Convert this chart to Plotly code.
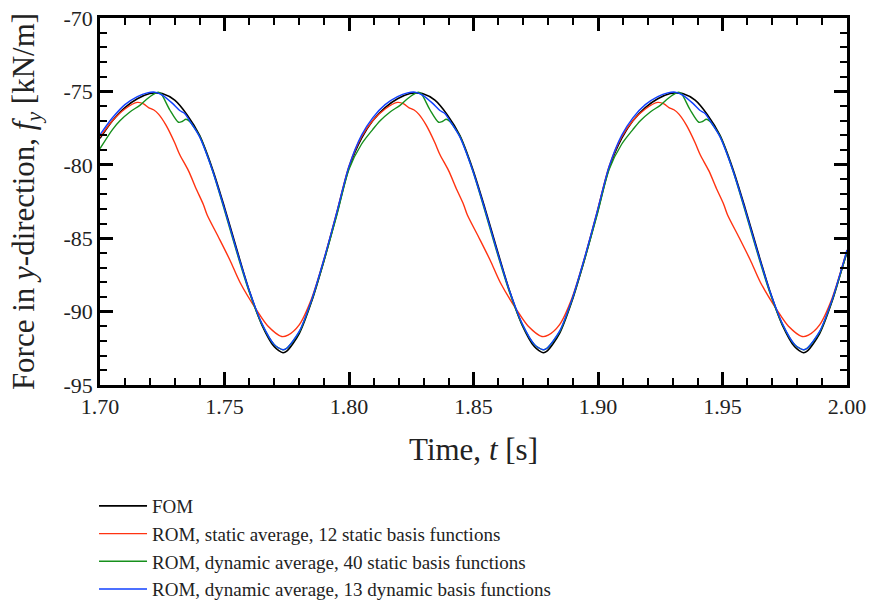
import plotly.graph_objects as go

# ---- data ----
fom_t = [1.7000, 1.7050, 1.7100, 1.7150, 1.7200, 1.7225, 1.7250, 1.7300, 1.7350, 1.7400,
         1.7450, 1.7500, 1.7550, 1.7600, 1.7650, 1.7700, 1.7735, 1.7750, 1.7800, 1.7850,
         1.7900, 1.7950, 1.8000, 1.8050,
         1.8095, 1.8145, 1.8195, 1.8245, 1.8270, 1.8295, 1.8345, 1.8395, 1.8445, 1.8495,
         1.8545, 1.8595, 1.8645, 1.8695, 1.8745, 1.8780, 1.8795, 1.8845, 1.8895, 1.8945,
         1.8995, 1.9045, 1.9095,
         1.9140, 1.9190, 1.9240, 1.9290, 1.9315, 1.9340, 1.9390, 1.9440, 1.9490, 1.9540,
         1.9590, 1.9640, 1.9690, 1.9740, 1.9790, 1.9825, 1.9840, 1.9890, 1.9940, 1.9990,
         2.0000]
fom_f = [-78.2, -77.0, -76.1, -75.5, -75.15, -75.1, -75.15, -75.6, -76.6, -78.0,
         -80.2, -82.9, -85.8, -88.6, -90.9, -92.4, -92.8, -92.7, -91.5, -89.3,
         -86.5, -83.4, -80.2, -78.2,
         -77.0, -76.1, -75.5, -75.15, -75.1, -75.15, -75.6, -76.6, -78.0, -80.2,
         -82.9, -85.8, -88.6, -90.9, -92.4, -92.8, -92.7, -91.5, -89.3, -86.5,
         -83.4, -80.2, -78.2,
         -77.0, -76.1, -75.5, -75.15, -75.1, -75.15, -75.6, -76.6, -78.0, -80.2,
         -82.9, -85.8, -88.6, -90.9, -92.4, -92.8, -92.7, -91.5, -89.3, -86.5,
         -86.0]

red_t = [1.7000, 1.7050, 1.7100, 1.7150, 1.7175, 1.7195, 1.7215, 1.7235, 1.7265, 1.7300,
         1.7320, 1.7355, 1.7388, 1.7415, 1.7430, 1.7475, 1.7522, 1.7562, 1.7629, 1.7675,
         1.7730, 1.7755, 1.7800, 1.7850, 1.7900, 1.7950, 1.8000, 1.8050,
         1.8095, 1.8145, 1.8195, 1.8220, 1.8240, 1.8260, 1.8280, 1.8310, 1.8345, 1.8365,
         1.8400, 1.8433, 1.8460, 1.8475, 1.8520, 1.8567, 1.8607, 1.8674, 1.8720, 1.8775,
         1.8800, 1.8845, 1.8895, 1.8945, 1.8995, 1.9045, 1.9095,
         1.9140, 1.9190, 1.9240, 1.9265, 1.9285, 1.9305, 1.9325, 1.9355, 1.9390, 1.9410,
         1.9445, 1.9478, 1.9505, 1.9520, 1.9565, 1.9612, 1.9652, 1.9719, 1.9765, 1.9820,
         1.9845, 1.9890, 1.9940, 1.9990, 2.0000]
red_f = [-78.1, -77.0, -76.2, -75.75, -75.85, -76.1, -76.25, -76.55, -77.3, -78.5,
         -79.3, -80.4, -81.7, -82.7, -83.4, -84.9, -86.5, -88.0, -89.9, -91.0,
         -91.7, -91.6, -90.9, -89.1, -86.4, -83.3, -80.1, -78.1,
         -77.0, -76.2, -75.75, -75.85, -76.1, -76.25, -76.55, -77.3, -78.5, -79.3,
         -80.4, -81.7, -82.7, -83.4, -84.9, -86.5, -88.0, -89.9, -91.0, -91.7,
         -91.6, -90.9, -89.1, -86.4, -83.3, -80.1, -78.1,
         -77.0, -76.2, -75.75, -75.85, -76.1, -76.25, -76.55, -77.3, -78.5, -79.3,
         -80.4, -81.7, -82.7, -83.4, -84.9, -86.5, -88.0, -89.9, -91.0, -91.7,
         -91.6, -90.9, -89.1, -86.4, -85.8]

green_t = [1.7000, 1.7050, 1.7080, 1.7120, 1.7160, 1.7190, 1.7214, 1.7234, 1.7245, 1.7280,
           1.7315, 1.7330, 1.7345, 1.7360, 1.7380, 1.7400, 1.7450, 1.7500, 1.7550, 1.7600,
           1.7650, 1.7700, 1.7735, 1.7750, 1.7800, 1.7850, 1.7900, 1.7950, 1.8000, 1.8050,
           1.8095, 1.8125, 1.8165, 1.8205, 1.8235, 1.8259, 1.8279, 1.8290, 1.8325, 1.8360,
           1.8375, 1.8390, 1.8405, 1.8425, 1.8445, 1.8495, 1.8545, 1.8595, 1.8645, 1.8695,
           1.8745, 1.8780, 1.8795, 1.8845, 1.8895, 1.8945, 1.8995, 1.9045, 1.9095,
           1.9140, 1.9170, 1.9210, 1.9250, 1.9280, 1.9304, 1.9324, 1.9335, 1.9370, 1.9405,
           1.9420, 1.9435, 1.9450, 1.9470, 1.9490, 1.9540, 1.9590, 1.9640, 1.9690, 1.9740,
           1.9790, 1.9825, 1.9840, 1.9890, 1.9940, 1.9990, 2.0000]
green_f = [-78.9, -77.6, -77.0, -76.4, -75.95, -75.5, -75.2, -75.05, -75.15, -76.25,
           -77.1, -77.05, -76.9, -77.05, -77.5, -78.05, -80.3, -83.1, -86.0, -88.7,
           -90.85, -92.25, -92.6, -92.5, -91.4, -89.25, -86.5, -83.5, -80.3, -78.6,
           -77.6, -77.0, -76.4, -75.95, -75.5, -75.2, -75.05, -75.15, -76.25, -77.1,
           -77.05, -76.9, -77.05, -77.5, -78.05, -80.3, -83.1, -86.0, -88.7, -90.85,
           -92.25, -92.6, -92.5, -91.4, -89.25, -86.5, -83.5, -80.3, -78.6,
           -77.6, -77.0, -76.4, -75.95, -75.5, -75.2, -75.05, -75.15, -76.25, -77.1,
           -77.05, -76.9, -77.05, -77.5, -78.05, -80.3, -83.1, -86.0, -88.7, -90.85,
           -92.25, -92.6, -92.5, -91.4, -89.25, -86.5, -85.9]

blue_t = [1.7000, 1.7050, 1.7100, 1.7150, 1.7190, 1.7220, 1.7250, 1.7290, 1.7320, 1.7340,
          1.7360, 1.7400, 1.7450, 1.7500, 1.7550, 1.7600, 1.7650, 1.7700, 1.7735, 1.7750,
          1.7800, 1.7850, 1.7900, 1.7950, 1.8000, 1.8050,
          1.8095, 1.8145, 1.8195, 1.8235, 1.8265, 1.8295, 1.8335, 1.8365, 1.8385, 1.8405,
          1.8445, 1.8495, 1.8545, 1.8595, 1.8645, 1.8695, 1.8745, 1.8780, 1.8795, 1.8845,
          1.8895, 1.8945, 1.8995, 1.9045, 1.9095,
          1.9140, 1.9190, 1.9240, 1.9280, 1.9310, 1.9340, 1.9380, 1.9410, 1.9430, 1.9450,
          1.9490, 1.9540, 1.9590, 1.9640, 1.9690, 1.9740, 1.9790, 1.9825, 1.9840, 1.9890,
          1.9940, 1.9990, 2.0000]
blue_f = [-77.95, -76.8, -75.9, -75.35, -75.1, -75.05, -75.25, -75.8, -76.3, -76.5,
          -77.0, -78.1, -80.3, -83.0, -85.9, -88.6, -90.8, -92.25, -92.6, -92.5,
          -91.35, -89.2, -86.4, -83.3, -80.1, -78.0,
          -76.8, -75.9, -75.35, -75.1, -75.05, -75.25, -75.8, -76.3, -76.5, -77.0,
          -78.1, -80.3, -83.0, -85.9, -88.6, -90.8, -92.25, -92.6, -92.5, -91.35,
          -89.2, -86.4, -83.3, -80.1, -78.0,
          -76.8, -75.9, -75.35, -75.1, -75.05, -75.25, -75.8, -76.3, -76.5, -77.0,
          -78.1, -80.3, -83.0, -85.9, -88.6, -90.8, -92.25, -92.6, -92.5, -91.35,
          -89.2, -86.4, -85.8]

names = ["FOM",
         "ROM, static average, 12 static basis functions",
         "ROM, dynamic average, 40 static basis functions",
         "ROM, dynamic average, 13 dynamic basis functions"]
colors = ["#000000", "#ff3311", "#16901c", "#1040ff"]

x_ticks = [1.70, 1.75, 1.80, 1.85, 1.90, 1.95, 2.00]
x_ticktext = ["1.70", "1.75", "1.80", "1.85", "1.90", "1.95", "2.00"]
y_ticks = [-95, -90, -85, -80, -75, -70]
y_ticktext = ["-95", "-90", "-85", "-80", "-75", "-70"]

FONT = "Liberation Serif"

fig = go.Figure()
series = [(fom_t, fom_f), (red_t, red_f), (green_t, green_f), (blue_t, blue_f)]
for i, ((tt, ff), nm, col) in enumerate(zip(series, names, colors)):
    fig.add_trace(go.Scatter(
        x=tt, y=ff, mode="lines", name=nm,
        line=dict(color=col, width=1.6 if i == 0 else 1.4, shape="spline", smoothing=0.8),
    ))

axis_common = dict(
    showline=True, linecolor="black", linewidth=2.5, mirror="allticks",
    ticks="inside", ticklen=13, tickwidth=2.5, tickcolor="black",
    showgrid=False, zeroline=False,
    tickfont=dict(family=FONT, size=22, color="#222"),
)

fig.update_xaxes(
    range=[1.70, 2.00], tickvals=x_ticks, ticktext=x_ticktext,
    minor=dict(dtick=0.01, tick0=1.70, ticks="inside", ticklen=7, tickwidth=1.5, tickcolor="black"),
    title=dict(text="Time, <i>t</i> [s]", font=dict(family=FONT, size=31, color="#222"), standoff=21),
    **axis_common,
)
fig.update_yaxes(
    range=[-95, -70], tickvals=y_ticks, ticktext=y_ticktext,
    minor=dict(dtick=1, tick0=-95, ticks="inside", ticklen=7, tickwidth=1.5, tickcolor="black"),
    title=dict(text="Force in <i>y</i>-direction, <i>f<sub>y</sub></i> [kN/m]",
               font=dict(family=FONT, size=31, color="#222"), standoff=20),
    **axis_common,
)

fig.update_layout(
    width=871, height=602,
    margin=dict(l=100, r=24, t=18, b=217, autoexpand=False),
    paper_bgcolor="white", plot_bgcolor="white",
    showlegend=True,
    legend=dict(
        x=-0.008, xanchor="left", y=-0.278, yanchor="top",
        orientation="v", font=dict(family=FONT, size=19, color="#222"),
        tracegroupgap=0, bgcolor="rgba(0,0,0,0)", itemwidth=48,
    ),
)

fig.write_html("out.html")
